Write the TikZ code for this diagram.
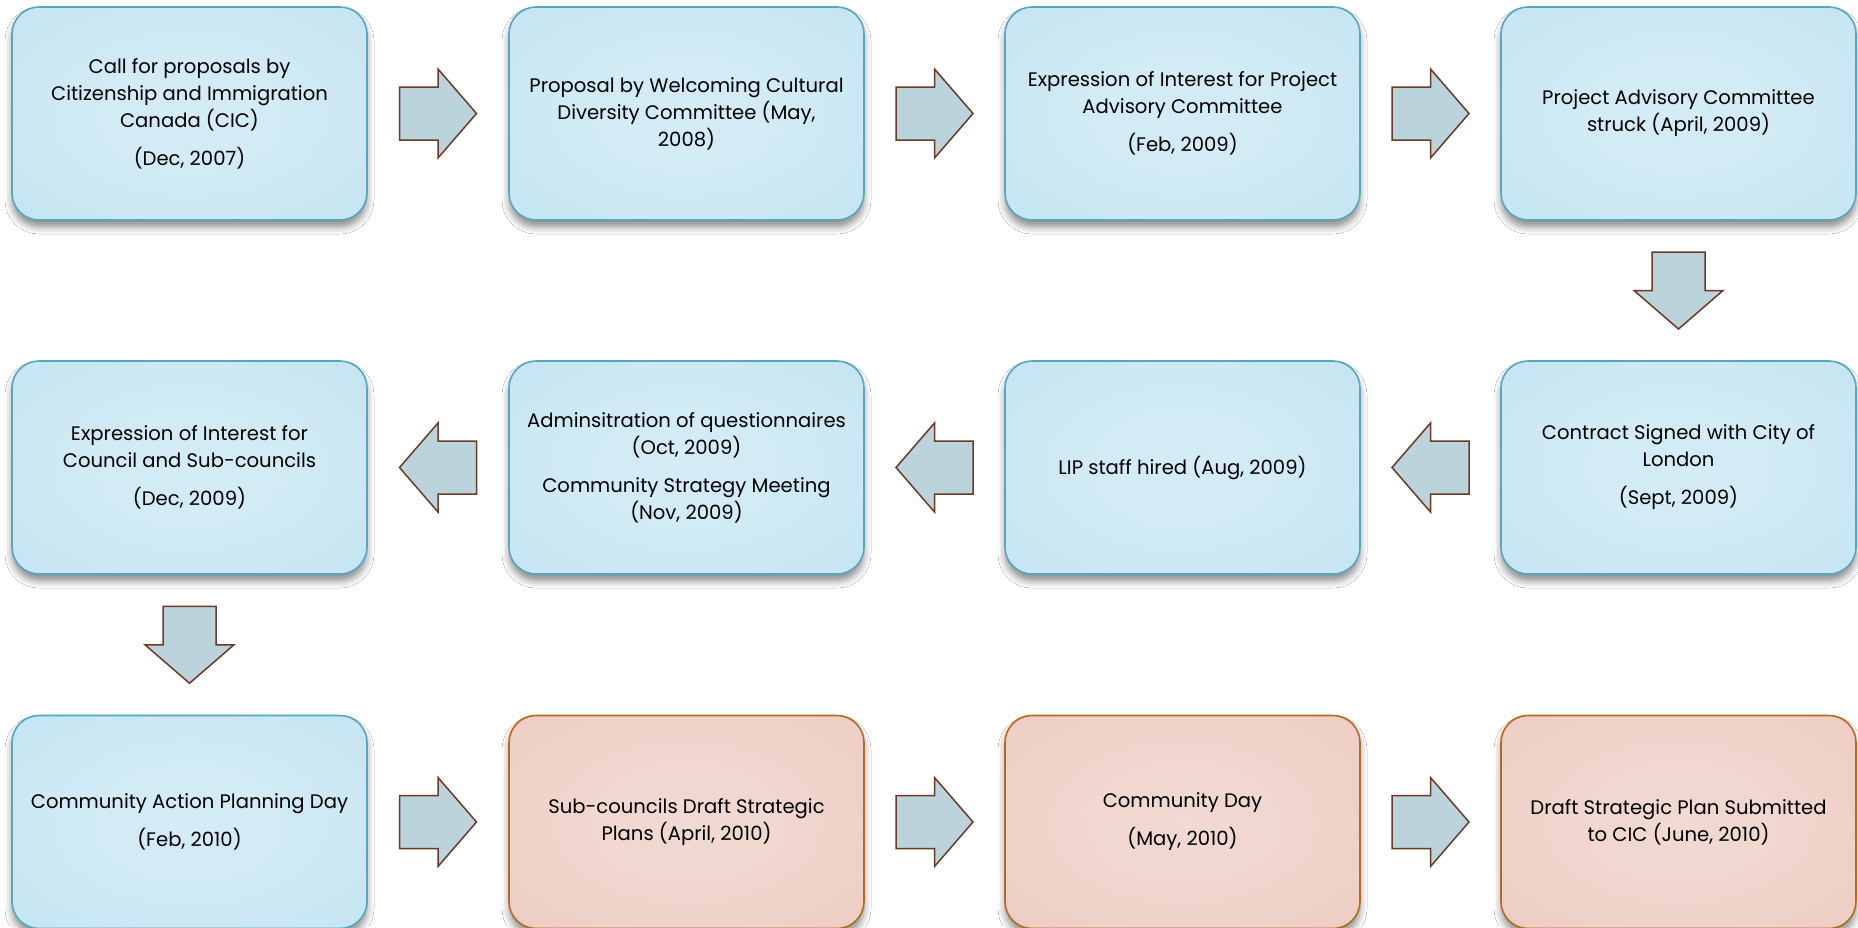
\documentclass[tikz,border=0pt]{standalone}
\usepackage{fontspec}
\setmainfont{Poppins}
\usetikzlibrary{shadows.blur,calc}
\definecolor{bluebd}{HTML}{55A7BF}
\definecolor{pinkbd}{HTML}{B9691E}
\definecolor{arrfill}{HTML}{BBD3DB}
\definecolor{arrdraw}{HTML}{6B3A28}
\pgfdeclareradialshading{blueshade}{\pgfpoint{0bp}{0bp}}{rgb(0bp)=(0.835,0.925,0.965); rgb(15bp)=(0.82,0.92,0.96); rgb(55bp)=(0.72,0.88,0.94); rgb(75bp)=(0.71,0.875,0.94)}
\pgfdeclareradialshading{pinkshade}{\pgfpoint{0bp}{0bp}}{rgb(0bp)=(0.945,0.855,0.83); rgb(15bp)=(0.94,0.84,0.81); rgb(55bp)=(0.92,0.77,0.72); rgb(75bp)=(0.915,0.76,0.71)}
\begin{document}
\begin{tikzpicture}[x=1pt,y=1pt,
  box/.style={rounded corners=27pt, minimum width=355pt, minimum height=213pt,
    line width=1.6pt, align=center, inner sep=0pt,
    font=\fontsize{19.6}{27}\selectfont,
    blur shadow={shadow xshift=0pt, shadow yshift=-7pt, shadow blur radius=7pt, shadow opacity=45}},
  bluebox/.style={box, draw=bluebd, shading=blueshade},
  pinkbox/.style={box, draw=pinkbd, shading=pinkshade},
  arrowstyle/.style={fill=arrfill, draw=arrdraw, line width=1.5pt, line join=miter},
  blockarrow/.pic={\path[arrowstyle] (-38.5,-26.5) -- (0,-26.5) -- (0,-44.5) -- (38.5,0) -- (0,44.5) -- (0,26.5) -- (-38.5,26.5) -- cycle;}
]
\fill[white] (0,0) rectangle (1858,-927);
\useasboundingbox (0,0) rectangle (1858,-927);
% row 1
\node[bluebox] (b1) at (189.5,-113.5) {Call for proposals by\\Citizenship and Immigration\\Canada (CIC)\\[11pt](Dec, 2007)};
\node[bluebox] (b2) at (686.5,-113.5) {Proposal by Welcoming Cultural\\Diversity Committee (May,\\2008)};
\node[bluebox] (b3) at (1182.5,-113.5) {Expression of Interest for Project\\Advisory Committee\\[11pt](Feb, 2009)};
\node[bluebox] (b4) at (1678.5,-113.5) {Project Advisory Committee\\struck (April, 2009)};
% row 2
\node[bluebox] (b5) at (1678.5,-467.5) {Contract Signed with City of\\London\\[11pt](Sept, 2009)};
\node[bluebox] (b6) at (1182.5,-467.5) {LIP staff hired (Aug, 2009)};
\node[bluebox] (b7) at (686.5,-467.5) {Adminsitration of questionnaires\\(Oct, 2009)\\[11pt]Community Strategy Meeting\\(Nov, 2009)};
\node[bluebox] (b8) at (189.5,-467.5) {Expression of Interest for\\Council and Sub-councils\\[11pt](Dec, 2009)};
% row 3
\node[bluebox] (b9) at (189.5,-822) {Community Action Planning Day\\[11pt](Feb, 2010)};
\node[pinkbox] (b10) at (686.5,-822) {Sub-councils Draft Strategic\\Plans (April, 2010)};
\node[pinkbox] (b11) at (1182.5,-822) {Community Day\\[11pt](May, 2010)};
\node[pinkbox] (b12) at (1678.5,-822) {Draft Strategic Plan Submitted\\to CIC (June, 2010)};
% arrows
\pic at ($(b1.east)!0.5!(b2.west)$) {blockarrow};
\pic at ($(b2.east)!0.5!(b3.west)$) {blockarrow};
\pic at ($(b3.east)!0.5!(b4.west)$) {blockarrow};
\pic[rotate=-90] at ($(b4.south)!0.5!(b5.north)$) {blockarrow};
\pic[rotate=180] at ($(b5.west)!0.5!(b6.east)$) {blockarrow};
\pic[rotate=180] at ($(b6.west)!0.5!(b7.east)$) {blockarrow};
\pic[rotate=180] at ($(b7.west)!0.5!(b8.east)$) {blockarrow};
\pic[rotate=-90] at ($(b8.south)!0.5!(b9.north)$) {blockarrow};
\pic at ($(b9.east)!0.5!(b10.west)$) {blockarrow};
\pic at ($(b10.east)!0.5!(b11.west)$) {blockarrow};
\pic at ($(b11.east)!0.5!(b12.west)$) {blockarrow};
\end{tikzpicture}
\end{document}
